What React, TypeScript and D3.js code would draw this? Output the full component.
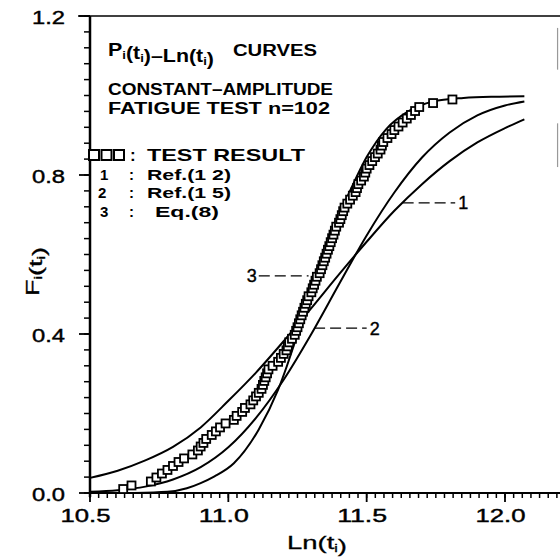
import * as d3 from 'd3';

// axis ticks
const X_MAJOR = [10.5, 11.0, 11.5, 12.0];
const Y_MAJOR = [0.0, 0.4, 0.8, 1.2];

// test results (n=102), Ln(t_i) and rank probability F_i
const TEST_X = [
  10.62, 10.65, 10.72, 10.74, 10.76, 10.78, 10.8, 10.82, 10.84, 10.87,
  10.89, 10.9, 10.91, 10.92, 10.94, 10.955, 10.97, 10.99, 11.02, 11.03,
  11.05, 11.06, 11.08, 11.09, 11.1, 11.11, 11.12, 11.125, 11.13, 11.135,
  11.14, 11.145, 11.16, 11.18, 11.19, 11.2, 11.21, 11.215, 11.22, 11.23,
  11.24, 11.245, 11.25, 11.255, 11.26, 11.265, 11.27, 11.275, 11.28, 11.285,
  11.29, 11.3, 11.305, 11.31, 11.315, 11.32, 11.33, 11.335, 11.34, 11.345,
  11.35, 11.355, 11.36, 11.365, 11.37, 11.375, 11.38, 11.385, 11.39, 11.4,
  11.405, 11.41, 11.415, 11.42, 11.43, 11.44, 11.45, 11.46, 11.465, 11.47,
  11.48, 11.49, 11.495, 11.5, 11.51, 11.52, 11.53, 11.54, 11.55, 11.555,
  11.56, 11.575, 11.59, 11.6, 11.615, 11.63, 11.645, 11.66, 11.675, 11.69,
  11.74, 11.81,
];
const TEST_F = [
  0.01, 0.019, 0.029, 0.039, 0.049, 0.058, 0.068, 0.078, 0.087, 0.097,
  0.107, 0.117, 0.126, 0.136, 0.146, 0.155, 0.165, 0.175, 0.184, 0.194,
  0.204, 0.214, 0.223, 0.233, 0.243, 0.252, 0.262, 0.272, 0.282, 0.291,
  0.301, 0.311, 0.32, 0.33, 0.34, 0.35, 0.359, 0.369, 0.379, 0.388,
  0.398, 0.408, 0.417, 0.427, 0.437, 0.447, 0.456, 0.466, 0.476, 0.485,
  0.495, 0.505, 0.515, 0.524, 0.534, 0.544, 0.553, 0.563, 0.573, 0.583,
  0.592, 0.602, 0.612, 0.621, 0.631, 0.641, 0.65, 0.66, 0.67, 0.68,
  0.689, 0.699, 0.709, 0.718, 0.728, 0.738, 0.748, 0.757, 0.767, 0.777,
  0.786, 0.796, 0.806, 0.816, 0.825, 0.835, 0.845, 0.854, 0.864, 0.874,
  0.883, 0.893, 0.903, 0.913, 0.922, 0.932, 0.942, 0.951, 0.961, 0.971,
  0.981, 0.99,
];

// curve 1 : Ref.(12), curve 2 : Ref.(15)
const CURVE_X = [10.5, 10.6, 10.7, 10.8, 10.9, 11.0, 11.1, 11.2, 11.3, 11.4, 11.5, 11.6, 11.7, 11.8, 11.9, 12.0, 12.07];
const CURVE1_F = [0.038, 0.056, 0.082, 0.116, 0.165, 0.232, 0.303, 0.382, 0.465, 0.55, 0.632, 0.71, 0.777, 0.835, 0.882, 0.918, 0.94];
const CURVE2_F = [0.003, 0.007, 0.016, 0.034, 0.065, 0.115, 0.189, 0.285, 0.4, 0.525, 0.648, 0.756, 0.844, 0.907, 0.95, 0.975, 0.985];
// curve 3 : Eq.(8)
const CURVE3_X = [10.66, 10.78, 10.85, 10.9, 10.95, 11.02, 11.11, 11.18, 11.25, 11.31, 11.37, 11.43, 11.5, 11.57, 11.65, 11.74, 11.85, 11.95, 12.07];
const CURVE3_F = [0.0, 0.003, 0.012, 0.025, 0.042, 0.075, 0.16, 0.26, 0.4, 0.54, 0.655, 0.745, 0.845, 0.915, 0.96, 0.985, 0.994, 0.997, 0.998];

// curve labels: [label, leader start X, leader end X, F]
const LABELS: [string, number, number, number][] = [
  ['1', 11.63, 11.82, 0.73],
  ['3', 11.11, 11.29, 0.546],
  ['2', 11.31, 11.5, 0.415],
];

const FONT = 'Liberation Sans, Arial, sans-serif';

export default function App() {
  const x = d3.scaleLinear().domain([10.5, 12.0]).range([90, 505]);
  const y = d3.scaleLinear().domain([0, 1.2]).range([493, 16]);

  const line = d3
    .line<[number, number]>()
    .x((d) => x(d[0]))
    .y((d) => y(d[1]))
    .curve(d3.curveMonotoneX);

  const c1 = line(CURVE_X.map((v, i) => [v, CURVE1_F[i]]))!;
  const c2 = line(CURVE_X.map((v, i) => [v, CURVE2_F[i]]))!;
  const c3 = line(CURVE3_X.map((v, i) => [v, CURVE3_F[i]]))!;

  const xMinor = d3.range(10.5, 12.2, 1 / 32);
  const yMinor = d3.range(0, 1.2001, 0.04);
  const x0 = x(10.5);
  const y0 = y(0);
  const yTop = y(1.2);
  const xRight = x(12.19);
  const SQ = 8;

  const sub = (s: string, fs = 10) => (
    <>
      <tspan fontSize={fs} dy={3}>{s}</tspan>
      <tspan dy={-3}></tspan>
    </>
  );

  return (
    <svg
      width={560}
      height={560}
      style={{ position: 'absolute', left: 0, top: 0, background: '#fff' }}
      fontFamily={FONT}
    >
      <rect width={560} height={560} fill="#fff" />

      {/* frame */}
      <line x1={78} x2={560} y1={yTop} y2={yTop} stroke="#000" strokeWidth={1.5} />
      <line x1={xRight} x2={xRight} y1={y(1.17)} y2={y(1.065)} stroke="#999" strokeWidth={1.2} />
      <line x1={xRight} x2={xRight} y1={y(0.93)} y2={y(0.82)} stroke="#999" strokeWidth={1.2} />

      {/* y axis */}
      <line x1={x0} x2={x0} y1={yTop} y2={y0 + 4} stroke="#000" strokeWidth={2.5} />
      {yMinor.map((v) => (
        <line key={'ym' + v} x1={x0 - 6} x2={x0} y1={y(v)} y2={y(v)} stroke="#000" strokeWidth={1.5} />
      ))}
      {Y_MAJOR.map((v) => (
        <g key={'yM' + v}>
          <line x1={x0 - 11} x2={x0} y1={y(v)} y2={y(v)} stroke="#000" strokeWidth={1.8} />
          <text x={32} y={y(v) + 8} fontSize={18} textLength={33} lengthAdjust="spacingAndGlyphs" stroke="#000" strokeWidth={0.4}>
            {v.toFixed(1)}
          </text>
        </g>
      ))}

      {/* x axis */}
      <line x1={x0} x2={560} y1={y0} y2={y0} stroke="#000" strokeWidth={2.2} />
      {xMinor.map((v) => (
        <line key={'xm' + v} x1={x(v)} x2={x(v)} y1={y0} y2={y0 + 5} stroke="#000" strokeWidth={1.5} />
      ))}
      {X_MAJOR.map((v) => (
        <g key={'xM' + v}>
          <line x1={x(v)} x2={x(v)} y1={y0} y2={y0 + 9} stroke="#000" strokeWidth={1.8} />
          <text x={x(v) - 29.5} y={522} fontSize={18} textLength={50} lengthAdjust="spacingAndGlyphs" stroke="#000" strokeWidth={0.4}>
            {v.toFixed(1)}
          </text>
        </g>
      ))}

      {/* axis titles */}
      <text x={287} y={549} fontSize={19} textLength={60} lengthAdjust="spacingAndGlyphs" stroke="#000" strokeWidth={0.3}>
        Ln(t{sub('i', 11)})
      </text>
      <text transform="translate(39,296) rotate(-90)" fontSize={19} textLength={49} lengthAdjust="spacingAndGlyphs" stroke="#000" strokeWidth={0.3}>
        F{sub('i', 11)}(t{sub('i', 11)})
      </text>

      {/* curves */}
      <g fill="none" stroke="#000" strokeWidth={2}>
        <path d={c1} />
        <path d={c2} />
        <path d={c3} />
      </g>

      {/* test results */}
      <g fill="#fff" stroke="#000" strokeWidth={1.8}>
        {TEST_X.map((v, i) => (
          <rect key={'p' + i} x={x(v) - SQ / 2} y={y(TEST_F[i]) - SQ / 2} width={SQ} height={SQ} />
        ))}
      </g>

      {/* curve labels */}
      {LABELS.map(([lab, xa, xb, f]) => (
        <g key={'lab' + lab}>
          <line x1={x(xa)} x2={x(xb)} y1={y(f)} y2={y(f)} stroke="#000" strokeWidth={1.3} strokeDasharray="11 5" />
          {lab === '3' ? (
            <text x={x(xa) - 2} y={y(f) + 6.5} fontSize={18} textAnchor="end" stroke="#000" strokeWidth={0.4}>
              {lab}
            </text>
          ) : (
            <text x={x(xb) + 3} y={y(f) + 6.5} fontSize={18} stroke="#000" strokeWidth={0.4}>
              {lab}
            </text>
          )}
        </g>
      ))}

      {/* legend block */}
      <g fontSize={16} fontWeight="bold" fill="#000">
        <text x={108} y={56} fontSize={18} textLength={106} lengthAdjust="spacingAndGlyphs">
          P{sub('i', 11)}(t{sub('i', 11)})–Ln(t{sub('i', 11)})
        </text>
        <text x={233} y={56} textLength={84} lengthAdjust="spacingAndGlyphs">CURVES</text>
        <text x={108} y={95} textLength={225} lengthAdjust="spacingAndGlyphs">CONSTANT–AMPLITUDE</text>
        <text x={108} y={114} textLength={222} lengthAdjust="spacingAndGlyphs">FATIGUE  TEST  n=102</text>
        <g fill="#fff" stroke="#000" strokeWidth={2}>
          {[0, 1, 2].map((k) => (
            <rect key={'lg' + k} x={89 + k * 12.5} y={150} width={10} height={10} />
          ))}
        </g>
        <text x={130} y={161} fontSize={17}>:</text>
        <text x={147} y={161} fontSize={17} textLength={158} lengthAdjust="spacingAndGlyphs">TEST  RESULT</text>
        <g fontSize={15}>
          <text x={100} y={180}>1</text>
          <text x={129} y={180}>:</text>
          <text x={147} y={180} textLength={84} lengthAdjust="spacingAndGlyphs">Ref.(1 2)</text>
          <text x={98} y={197.5}>2</text>
          <text x={129} y={197.5}>:</text>
          <text x={147} y={197.5} textLength={84} lengthAdjust="spacingAndGlyphs">Ref.(1 5)</text>
          <text x={100} y={217}>3</text>
          <text x={129} y={217}>:</text>
          <text x={155} y={217} textLength={64} lengthAdjust="spacingAndGlyphs">Eq.(8)</text>
        </g>
      </g>
    </svg>
  );
}
